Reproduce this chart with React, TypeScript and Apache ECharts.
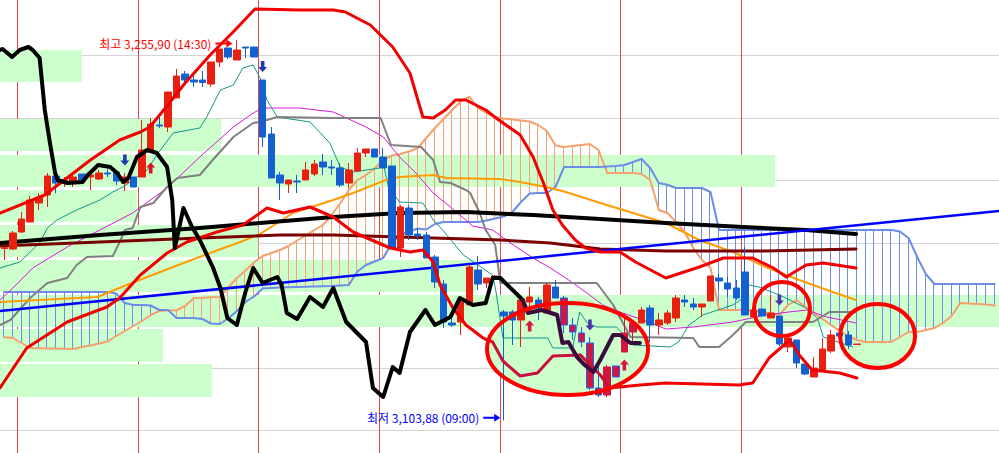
import React, { useEffect, useRef } from "react";
import * as echarts from "echarts";

// ---- categories (30-minute bars) ----
const sessionTimes = ["09:00","09:30","10:00","10:30","11:00","11:30","12:00","12:30","13:00","13:30","14:00","14:30","15:00","15:30"];
const categories: string[] = ["15:00", "15:30"];
while (categories.length < 116) categories.push(sessionTimes[(categories.length - 2) % 14]);

// ---- candles: [open, close, low, high] ----
const candles: number[][] = [
  [3172.6,3172.9,3168.0,3173.2],[3172.4,3178.8,3172.0,3179.6],[3179.2,3184.4,3178.8,3187.2],[3183.2,3192.0,3183.2,3193.6],
  [3190.8,3193.2,3188.0,3194.8],[3194.0,3201.6,3189.2,3202.8],[3201.6,3198.8,3194.8,3201.6],[3198.8,3200.0,3197.2,3201.2],
  [3199.2,3201.2,3197.2,3203.2],[3202.4,3200.0,3198.8,3202.4],[3201.2,3202.0,3196.0,3202.4],[3200.4,3202.8,3200.0,3204.0],
  [3202.8,3202.4,3201.2,3204.4],[3203.2,3199.6,3198.0,3203.2],[3198.8,3201.2,3195.6,3202.8],[3201.2,3197.2,3197.2,3201.2],
  [3201.2,3212.0,3201.2,3224.0],[3211.2,3222.4,3211.2,3224.8],[3222.0,3221.6,3220.8,3226.0],[3221.2,3235.2,3219.2,3235.2],
  [3232.8,3241.6,3232.8,3244.4],[3242.4,3240.0,3238.8,3243.6],[3240.0,3239.2,3237.2,3242.0],[3240.0,3239.0,3237.2,3243.6],
  [3238.4,3247.2,3237.2,3247.2],[3247.2,3252.4,3245.2,3252.4],[3252.8,3249.2,3248.4,3252.8],[3248.0,3252.0,3248.0,3255.9],
  [3253.2,3252.8,3248.8,3253.2],[3253.2,3249.2,3249.2,3253.2],[3240.0,3217.2,3213.2,3240.0],[3218.4,3200.8,3200.8,3221.2],
  [3202.0,3198.8,3192.0,3203.2],[3198.4,3200.0,3194.8,3200.0],[3199.6,3199.2,3194.8,3202.0],[3200.0,3204.0,3200.0,3207.2],
  [3202.4,3206.4,3201.6,3208.0],[3207.2,3205.2,3202.0,3210.4],[3205.2,3204.8,3202.0,3208.0],[3204.8,3198.0,3197.2,3206.8],
  [3198.8,3204.0,3196.8,3206.8],[3203.6,3210.8,3203.6,3212.8],[3210.8,3212.4,3209.2,3212.4],[3212.4,3209.2,3209.2,3212.4],
  [3209.2,3204.8,3204.8,3212.8],[3205.6,3172.8,3172.8,3205.6],[3172.8,3189.2,3169.2,3190.0],[3188.8,3178.0,3176.0,3190.0],
  [3178.4,3177.6,3176.0,3180.8],[3178.0,3168.8,3168.8,3179.2],[3169.2,3159.2,3156.8,3170.0],[3158.4,3143.2,3140.8,3160.0],
  [3142.8,3142.0,3141.2,3146.0],[3143.2,3151.2,3138.0,3152.0],[3150.0,3165.2,3150.0,3166.0],[3164.0,3158.4,3156.0,3169.6],
  [3158.8,3160.8,3156.8,3160.8],[3160.8,3161.6,3160.4,3162.0],[3147.2,3145.6,3103.88,3148.0],[3147.2,3144.0,3134.0,3148.0],
  [3144.0,3152.0,3133.2,3152.0],[3151.2,3153.2,3147.2,3157.2],[3152.0,3148.8,3144.0,3153.2],[3146.8,3158.0,3146.8,3158.8],
  [3157.2,3152.8,3152.8,3160.0],[3152.8,3142.0,3138.8,3153.6],[3142.0,3139.2,3136.0,3144.8],[3138.8,3135.2,3133.2,3141.2],
  [3134.8,3116.8,3116.0,3137.2],[3116.8,3114.0,3113.2,3127.2],[3114.0,3125.2,3113.2,3126.0],[3125.6,3121.2,3121.2,3125.6],
  [3131.2,3138.8,3131.2,3146.8],[3139.2,3142.8,3135.2,3144.0],[3142.8,3148.0,3142.8,3149.2],[3148.8,3142.0,3135.2,3150.0],
  [3142.0,3144.0,3138.0,3146.8],[3142.8,3146.8,3142.0,3148.0],[3144.8,3152.8,3143.2,3154.0],[3152.0,3151.2,3149.2,3154.0],
  [3150.4,3149.2,3148.0,3152.8],[3149.2,3150.4,3145.2,3150.4],[3151.6,3161.6,3151.6,3161.6],[3160.8,3159.6,3156.0,3162.4],
  [3158.8,3156.4,3153.2,3161.2],[3156.8,3152.8,3152.0,3160.0],[3163.2,3146.0,3146.0,3173.2],[3145.2,3148.0,3145.2,3148.0],
  [3148.4,3145.6,3145.6,3148.4],[3144.8,3146.8,3144.8,3154.0],[3145.6,3134.4,3133.6,3145.6],[3133.2,3136.8,3131.2,3138.0],
  [3136.0,3126.8,3124.8,3136.0],[3126.4,3122.4,3122.0,3126.4],[3121.2,3124.8,3121.2,3129.2],[3123.6,3132.4,3123.6,3136.8],
  [3131.6,3138.0,3130.8,3140.0],[3138.8,3137.6,3137.6,3138.8],[3138.0,3134.0,3132.4,3139.6],[3134.2,3134.4,3134.2,3134.4],
];
// candles that sit inside the highlighted ellipse (drawn in its tinted colours)
const tintedCandles = [65, 66, 67, 68, 69, 70, 71, 72, 73];

// ---- Ichimoku leading spans, one value per category ----
const spanA: number[] = [
  3137.1,3136.8,3134.8,3132.8,3132.7,3132.6,3132.6,3132.5,3132.4,3133.2,3133.8,3134.6,3135.4,3137.6,3139.6,3141.6,
  3143.6,3146.0,3147.6,3147.8,3147.9,3149.6,3152.8,3152.9,3153.1,3153.2,3157.0,3160.8,3163.8,3167.0,3169.6,3170.8,
  3172.0,3173.6,3175.8,3177.8,3180.0,3182.0,3186.0,3190.6,3196.0,3200.0,3202.0,3204.6,3208.0,3209.8,3210.4,3211.4,
  3212.8,3216.8,3220.8,3224.4,3228.0,3231.4,3233.4,3228.8,3226.8,3225.1,3224.6,3224.2,3223.8,3223.4,3222.0,3219.6,
  3213.8,3213.2,3213.6,3214.0,3214.4,3212.0,3202.8,3202.8,3202.8,3202.8,3202.4,3200.0,3188.0,3186.8,3183.2,3179.2,
  3172.8,3168.0,3164.8,3148.0,3148.0,3148.0,3148.0,3147.7,3147.2,3146.6,3146.0,3150.0,3152.0,3149.2,3146.8,3144.4,
  3142.0,3139.6,3137.6,3136.0,3135.2,3135.2,3135.2,3135.2,3137.2,3139.2,3139.2,3140.0,3140.8,3142.8,3145.6,3150.8,
  3150.6,3150.4,3150.2,3149.8,
];
const spanB: number[] = [
  3155.2,3155.2,3155.2,3155.2,3155.2,3155.2,3155.2,3155.2,3155.2,3155.2,3155.2,3155.2,3155.2,3154.6,3150.8,3150.0,
  3150.0,3149.8,3148.0,3148.0,3144.8,3144.8,3144.8,3144.4,3142.6,3142.4,3144.6,3147.6,3151.2,3153.4,3156.6,3156.8,
  3157.0,3157.1,3157.2,3157.3,3157.4,3157.5,3157.6,3157.8,3158.0,3163.4,3166.0,3167.4,3168.8,3174.8,3178.0,3179.4,
  3180.6,3180.2,3182.4,3183.2,3183.2,3183.2,3183.2,3183.2,3183.8,3184.6,3185.4,3187.2,3191.2,3194.6,3194.8,3194.8,
  3197.2,3205.2,3205.2,3205.2,3205.2,3205.2,3205.4,3205.6,3206.0,3207.2,3208.4,3204.8,3198.8,3198.1,3196.8,3196.8,
  3196.8,3196.8,3195.2,3180.0,3180.0,3180.0,3180.0,3180.0,3180.0,3180.0,3180.0,3180.0,3180.0,3180.0,3180.0,3180.0,
  3180.0,3180.0,3180.0,3180.0,3180.0,3180.0,3180.0,3180.0,3179.4,3176.8,3169.2,3162.4,3158.4,3158.4,3158.4,3158.4,
  3158.4,3158.4,3158.4,3158.4,
];

// ---- indicator lines: [category position, price] ----
const bbUpper = [[-0.5,3186.8],[4.7,3194.0],[10.0,3208.0],[13.4,3216.0],[15.8,3219.2],[16.9,3221.2],[18.7,3228.8],[21.0,3238.8],[23.9,3250.0],[26.8,3260.0],[29.1,3268.4],[34.3,3268.0],[38.2,3268.0],[39.6,3267.2],[42.5,3262.0],[45.1,3253.2],[47.1,3242.8],[48.6,3225.2],[49.8,3224.8],[51.2,3228.0],[52.4,3232.0],[53.6,3232.0],[55.9,3228.0],[57.1,3224.8],[59.9,3218.0],[61.4,3209.2],[62.6,3198.8],[63.7,3188.0],[64.8,3182.0],[66.3,3176.0],[67.5,3172.8],[69.2,3171.2],[71.5,3171.2],[73.3,3167.2],[76.8,3160.8],[80.7,3165.2],[83.5,3168.8],[86.9,3168.8],[89.3,3164.8],[90.8,3161.2],[93.1,3166.0],[95.1,3166.8],[98.9,3164.8]];
const bbLowerBefore = [[-0.5,3116.8],[2.6,3132.8],[7.3,3143.2],[11.9,3149.2],[13.4,3152.8],[15.8,3162.0],[18.9,3170.8],[21.2,3175.2],[24.7,3179.2],[27.7,3182.0],[29.7,3186.8],[30.5,3188.8],[32.4,3186.8],[35.5,3189.2],[38.2,3185.2],[40.5,3179.2],[44.8,3172.8],[47.1,3171.2],[48.6,3172.0],[49.8,3167.2],[50.6,3158.0],[52.1,3148.8],[53.6,3142.0],[55.6,3136.8],[55.9,3136.3]];
const bbLowerInside = [[55.9,3136.3],[56.7,3135.2],[57.9,3127.6],[59.9,3121.6],[61.9,3122.8],[63.7,3129.6],[66.9,3130.0],[69.2,3122.0],[70.3,3116.8]];
const bbLowerAfter = [[70.3,3116.8],[73.8,3118.0],[76.8,3118.8],[85.3,3118.0],[86.9,3118.8],[88.8,3128.8],[91.2,3136.0],[92.3,3130.0],[93.8,3124.0],[97.0,3122.8],[99.0,3120.8]];
const maOrange = [[-0.5,3151.2],[10.8,3153.2],[14.2,3158.0],[19.6,3165.2],[24.2,3171.2],[27.4,3175.2],[29.7,3178.4],[33.5,3186.8],[38.2,3192.0],[40.5,3194.8],[44.3,3200.0],[45.9,3201.2],[49.8,3202.0],[51.3,3200.8],[57.6,3200.4],[59.9,3199.2],[62.9,3197.2],[65.2,3195.2],[69.2,3190.8],[73.0,3186.8],[76.8,3182.8],[80.7,3176.0],[84.6,3171.2],[88.4,3165.2],[92.3,3160.0],[96.2,3155.2],[98.9,3152.0]];
const maBlack = [[-0.5,3174.8],[11.1,3178.0],[22.7,3180.8],[29.7,3182.8],[38.2,3185.2],[45.9,3186.8],[53.6,3187.2],[61.4,3186.0],[69.2,3184.4],[76.8,3182.8],[85.8,3181.2],[93.1,3180.0],[98.9,3178.4]];
const maMaroon = [[-0.5,3173.6],[11.1,3175.2],[22.7,3176.8],[32.0,3178.0],[38.2,3178.0],[49.8,3176.8],[57.6,3176.0],[63.4,3174.8],[69.2,3172.4],[76.8,3171.6],[88.4,3171.6],[98.9,3172.4]];
const trendLine = [[-0.5,3147.6],[115.5,3187.6]];
const kijun = [[-0.5,3142.0],[0.7,3144.0],[3.0,3152.8],[5.0,3158.8],[7.3,3160.8],[8.4,3166.0],[9.6,3169.2],[12.6,3169.6],[13.4,3175.2],[14.0,3180.0],[14.9,3180.8],[15.8,3189.2],[17.3,3190.8],[18.9,3197.2],[20.1,3200.8],[22.7,3202.0],[24.2,3208.0],[26.6,3217.2],[28.9,3222.8],[29.7,3223.2],[31.7,3225.2],[38.2,3224.8],[43.7,3224.8],[44.9,3214.0],[48.4,3213.2],[49.8,3208.0],[50.6,3199.2],[51.8,3198.8],[53.6,3196.0],[54.1,3194.8],[55.2,3186.8],[55.9,3180.0],[57.0,3174.0],[57.6,3158.8],[68.8,3158.8],[70.7,3150.0],[72.7,3137.2],[80.0,3136.8],[80.7,3133.2],[83.0,3133.2],[84.6,3138.0],[86.1,3143.2],[93.9,3143.2],[95.8,3147.2],[98.9,3147.2]];
const tenkan = [[-0.5,3164.8],[1.8,3167.2],[3.0,3171.2],[4.1,3174.8],[5.0,3180.8],[6.1,3184.0],[8.4,3188.0],[11.1,3192.0],[12.6,3195.2],[13.8,3197.2],[15.4,3201.2],[16.6,3204.0],[17.7,3210.0],[19.6,3218.8],[22.7,3220.8],[23.5,3225.2],[25.1,3236.0],[26.6,3238.0],[27.7,3244.8],[28.9,3246.0],[29.7,3240.8],[30.5,3232.0],[31.7,3225.2],[35.5,3223.2],[37.8,3214.8],[39.0,3205.2],[40.5,3203.2],[43.6,3204.8],[44.0,3206.8],[44.6,3197.2],[45.9,3191.2],[48.6,3190.8],[49.8,3184.0],[50.9,3180.0],[53.3,3170.0],[56.7,3162.0],[57.1,3155.2],[57.9,3136.8],[63.1,3136.8],[63.7,3132.8],[66.0,3132.8],[66.8,3147.2],[67.7,3142.8],[68.8,3141.2],[71.1,3141.2],[73.0,3134.0],[77.3,3133.2],[78.3,3135.2],[79.5,3142.0],[81.1,3146.0],[84.6,3150.0],[85.8,3152.8],[86.5,3158.0],[87.6,3157.2],[90.0,3154.0],[93.1,3148.8],[94.4,3144.8],[95.1,3137.2],[98.5,3133.2]];
const maMagenta = [[-0.5,3152.0],[1.0,3156.8],[3.3,3164.8],[7.3,3173.2],[11.1,3180.0],[14.9,3186.8],[18.9,3196.8],[22.7,3209.2],[26.6,3221.2],[28.9,3226.8],[30.0,3228.8],[34.3,3228.8],[38.2,3227.2],[42.0,3221.2],[44.0,3217.2],[45.9,3209.2],[47.8,3202.8],[49.8,3194.8],[51.8,3189.2],[54.4,3181.6],[56.7,3180.0],[59.1,3174.0],[61.4,3168.8],[63.4,3164.8],[65.2,3160.8],[67.5,3155.2],[69.5,3150.0],[71.8,3146.8],[74.2,3144.0],[76.8,3140.4],[80.0,3141.2],[84.6,3143.2],[88.4,3146.0],[91.1,3147.2],[93.2,3148.0],[95.5,3145.2],[98.9,3142.8]];
const oscillator = [[-0.5,3252.0],[-0.2,3252.4],[0.9,3249.2],[1.8,3252.0],[2.8,3253.2],[3.3,3252.0],[4.1,3248.8],[4.7,3228.0],[5.3,3214.8],[5.9,3202.8],[6.2,3200.0],[7.3,3198.8],[9.1,3199.2],[9.7,3202.0],[10.9,3206.0],[12.3,3205.2],[13.1,3202.8],[13.8,3199.2],[14.4,3200.8],[15.4,3209.2],[16.6,3212.0],[17.7,3210.8],[18.9,3205.2],[19.5,3192.0],[19.8,3172.8],[20.8,3188.8],[21.8,3181.2],[22.7,3176.0],[24.2,3165.2],[25.1,3156.8],[25.9,3144.8],[27.0,3142.0],[28.0,3155.2],[28.9,3164.8],[30.0,3158.8],[31.7,3161.2],[32.2,3158.0],[32.8,3146.8],[34.0,3144.4],[35.5,3153.2],[37.0,3149.2],[38.2,3156.8],[39.7,3143.2],[42.0,3135.2],[42.8,3116.8],[44.0,3113.2],[45.1,3125.2],[45.9,3122.8],[47.1,3139.2],[48.9,3148.0],[50.0,3142.0],[51.8,3145.2],[52.9,3152.8],[54.4,3150.0],[55.9,3150.8],[56.7,3160.8],[57.6,3160.8],[60.2,3152.0]];
const oscillatorInside = [[60.2,3152.0],[60.8,3146.8],[62.4,3148.0],[64.2,3146.0],[64.8,3134.8],[65.5,3135.2],[66.5,3129.2],[67.4,3126.0],[68.4,3123.2],[69.2,3128.0],[70.7,3138.0],[71.5,3138.0],[72.7,3134.8],[73.8,3134.8]];

// ---- price-by-volume rows: [low, high, reach in categories] ----
const profileLow = [3238.8, 3211.2, 3196.8, 3182.8, 3168.8, 3154.8, 3140.8, 3126.8, 3112.8];
const profileHigh = [3252.0, 3224.4, 3210.0, 3196.0, 3182.0, 3168.0, 3154.0, 3140.4, 3126.4];
const profileReach = [9.0, 25.2, 89.5, 15.4, 29.5, 54.8, 115.5, 18.4, 24.1];

// ---- signal arrows: [category, price] ----
const sellSignals = [[14, 3208.0], [30, 3245.4], [68, 3142.0], [90, 3152.0]];
const buySignals = [[17, 3204.8], [61, 3141.6], [72, 3126.0]];

// ---- highlighted zones: [centre category, centre price, half-width, half-height, filled] ----
const zones = [[65.4, 3132.4, 9.35, 18.4, 1], [90.3, 3148.4, 3.25, 10.8, 0], [101.4, 3137.6, 4.35, 12.8, 1]];

const gridPrices = [3100, 3125, 3150, 3175, 3200, 3225, 3250];
const daySeparators = [1.5, 15.5, 29.5, 43.5, 57.5, 71.5, 85.5];

const highLabel = "최고 3,255,90 (14:30)";
const lowLabel = "최저 3,103,88 (09:00)";
const highArrowAt = [25.5, 3254.6];
const lowArrowAt = [56.6, 3104.9];

const FONT = "'Noto Sans CJK KR', 'Noto Sans', sans-serif";
const arrowDown = "path://M3,0 L7,0 L7,6 L10,6 L5,11 L0,6 L3,6 Z";
const arrowUp = "path://M5,0 L10,5 L7,5 L7,11 L3,11 L3,5 L0,5 Z";
const arrowRight = "path://M0,3 L11,3 L11,0 L17,4 L11,8 L11,5 L0,5 Z";

const UP = "#e8200f";
const DOWN = "#1560d0";
const UP_TINT = "#d4153f";
const DOWN_TINT = "#1f62f0";

function lineSeries(data: number[][], color: string, width: number, z: number) {
  return {
    type: "line", xAxisIndex: 1, yAxisIndex: 0, data, showSymbol: false, symbol: "none",
    silent: true, z, lineStyle: { color, width, cap: "round", join: "round" },
  };
}

export default function App() {
  const ref = useRef<HTMLDivElement>(null);
  useEffect(() => {
    if (!ref.current) return;
    const chart = echarts.init(ref.current, undefined, { renderer: "svg" });
    const candleData = candles.map((c, j) => {
      if (tintedCandles.indexOf(j) < 0) return c;
      const col = c[1] >= c[0] ? UP_TINT : DOWN_TINT;
      return { value: c, itemStyle: { color: UP_TINT, color0: DOWN_TINT, borderColor: col, borderColor0: col } };
    });
    const option: any = {
      animation: false,
      backgroundColor: "#ffffff",
      grid: { left: 0, right: 0, top: 0, bottom: 0 },
      xAxis: [
        { type: "category", data: categories, boundaryGap: true, show: false },
        { type: "value", min: -0.5, max: 115.5, show: false },
      ],
      yAxis: { type: "value", min: 3090.8, max: 3272, show: false },
      series: [
        {
          type: "custom", xAxisIndex: 1, yAxisIndex: 0, silent: true, z: 1,
          data: gridPrices.map((p) => [0, p]),
          renderItem: (params: any, api: any) => {
            const cs = params.coordSys;
            const y = Math.round(api.coord([0, api.value(1)])[1]) + 0.5;
            return { type: "line", shape: { x1: cs.x, y1: y, x2: cs.x + cs.width, y2: y }, style: { stroke: "#d4d4d4", lineWidth: 1 } };
          },
        },
        {
          type: "custom", xAxisIndex: 1, yAxisIndex: 0, silent: true, z: 1,
          data: daySeparators.map((v) => [v, 3200]),
          renderItem: (params: any, api: any) => {
            const cs = params.coordSys;
            const x = Math.round(api.coord([api.value(0), 3200])[0]) + 0.5;
            return { type: "line", shape: { x1: x, y1: cs.y, x2: x, y2: cs.y + cs.height }, style: { stroke: "#dc4848", lineWidth: 1 } };
          },
        },
        {
          type: "custom", xAxisIndex: 1, yAxisIndex: 0, silent: true, z: 2,
          data: profileLow.map((lo, i) => [profileReach[i], lo, profileHigh[i]]),
          renderItem: (params: any, api: any) => {
            const cs = params.coordSys;
            const tl = api.coord([-0.5, api.value(2)]);
            const br = api.coord([api.value(0), api.value(1)]);
            return { type: "rect", shape: { x: cs.x, y: Math.round(tl[1]), width: br[0] - cs.x, height: Math.round(br[1]) - Math.round(tl[1]) - 1 }, style: { fill: "#ccffcc" } };
          },
        },
        {
          type: "custom", xAxisIndex: 1, yAxisIndex: 0, silent: true, z: 3,
          data: zones.filter((zn) => zn[4] === 1),
          renderItem: (params: any, api: any) => {
            const c = api.coord([api.value(0), api.value(1)]);
            const s = api.size([api.value(2), api.value(3)]);
            return { type: "ellipse", shape: { cx: c[0], cy: c[1], rx: s[0], ry: s[1] }, style: { fill: "#ccffcc" } };
          },
        },
        {
          type: "custom", xAxisIndex: 1, yAxisIndex: 0, silent: true, z: 4,
          data: spanA.map((a, j) => [j, a, spanB[j]]),
          renderItem: (params: any, api: any) => {
            const j = api.value(0), a = api.value(1), b = api.value(2);
            const p1 = api.coord([j, a]);
            const p2 = api.coord([j, b]);
            const x = Math.round(p1[0]) - 0.5;
            return { type: "line", shape: { x1: x, y1: p1[1], x2: x, y2: p2[1] }, style: { stroke: a >= b ? "#f5a272" : "#6d8fe8", lineWidth: 1 } };
          },
        },
        lineSeries(spanA.map((v, j) => [j, v]), "#f6a06c", 2, 5),
        lineSeries(spanB.map((v, j) => [j, v]), "#6b8de8", 2, 5),
        lineSeries(maMagenta, "#d818d8", 1, 6),
        lineSeries(tenkan, "#14968a", 1, 6),
        lineSeries(kijun, "#808080", 2, 7),
        lineSeries(maOrange, "#ff9c00", 2, 8),
        lineSeries(maMaroon, "#7a0000", 3, 9),
        lineSeries(maBlack, "#000000", 4, 10),
        lineSeries(trendLine, "#0000ff", 2.5, 11),
        {
          type: "candlestick", xAxisIndex: 0, yAxisIndex: 0, data: candleData, barWidth: 7, silent: true, z: 12,
          itemStyle: { color: UP, color0: DOWN, borderColor: UP, borderColor0: DOWN, borderWidth: 1 },
        },
        lineSeries(bbUpper, "#f00000", 3, 13),
        lineSeries(bbLowerBefore, "#f00000", 3, 13),
        lineSeries(bbLowerInside, "#c8103c", 3, 13),
        lineSeries(bbLowerAfter, "#f00000", 3, 13),
        lineSeries(oscillator, "#000000", 4, 14),
        lineSeries(oscillatorInside, "#3a0c3c", 4, 14),
        {
          type: "scatter", xAxisIndex: 1, yAxisIndex: 0, silent: true, z: 15,
          symbol: arrowDown, symbolSize: [9, 11],
          data: sellSignals.map((d) => ({ value: d, itemStyle: { opacity: 1, color: d[0] > 60 ? "#4a36a8" : "#1c3cae" } })),
        },
        {
          type: "scatter", xAxisIndex: 1, yAxisIndex: 0, silent: true, z: 15,
          symbol: arrowUp, symbolSize: [9, 11],
          data: buySignals.map((d) => ({ value: d, itemStyle: { opacity: 1, color: d[0] > 60 ? "#dc1440" : "#e0102a" } })),
        },
        {
          type: "custom", xAxisIndex: 1, yAxisIndex: 0, silent: true, z: 16,
          data: zones,
          renderItem: (params: any, api: any) => {
            const c = api.coord([api.value(0), api.value(1)]);
            const s = api.size([api.value(2), api.value(3)]);
            return { type: "ellipse", shape: { cx: c[0], cy: c[1], rx: s[0], ry: s[1] }, style: { fill: "none", stroke: "#ff0000", lineWidth: 4 } };
          },
        },
        {
          type: "scatter", xAxisIndex: 1, yAxisIndex: 0, silent: true, z: 17,
          symbol: arrowRight, symbolSize: [17, 8],
          data: [
            { value: highArrowAt, itemStyle: { opacity: 1, color: "#ff0000" }, label: { show: true, position: "left", distance: 4, formatter: highLabel, color: "#ff0000", fontSize: 12, fontFamily: FONT } },
            { value: lowArrowAt, itemStyle: { opacity: 1, color: "#0000ff" }, label: { show: true, position: "left", distance: 4, formatter: lowLabel, color: "#0000ff", fontSize: 12, fontFamily: FONT } },
          ],
        },
      ],
    };
    chart.setOption(option);
    return () => chart.dispose();
  }, []);
  return <div ref={ref} style={{ position: "absolute", left: 0, top: 0, width: 999, height: 453 }} />;
}
